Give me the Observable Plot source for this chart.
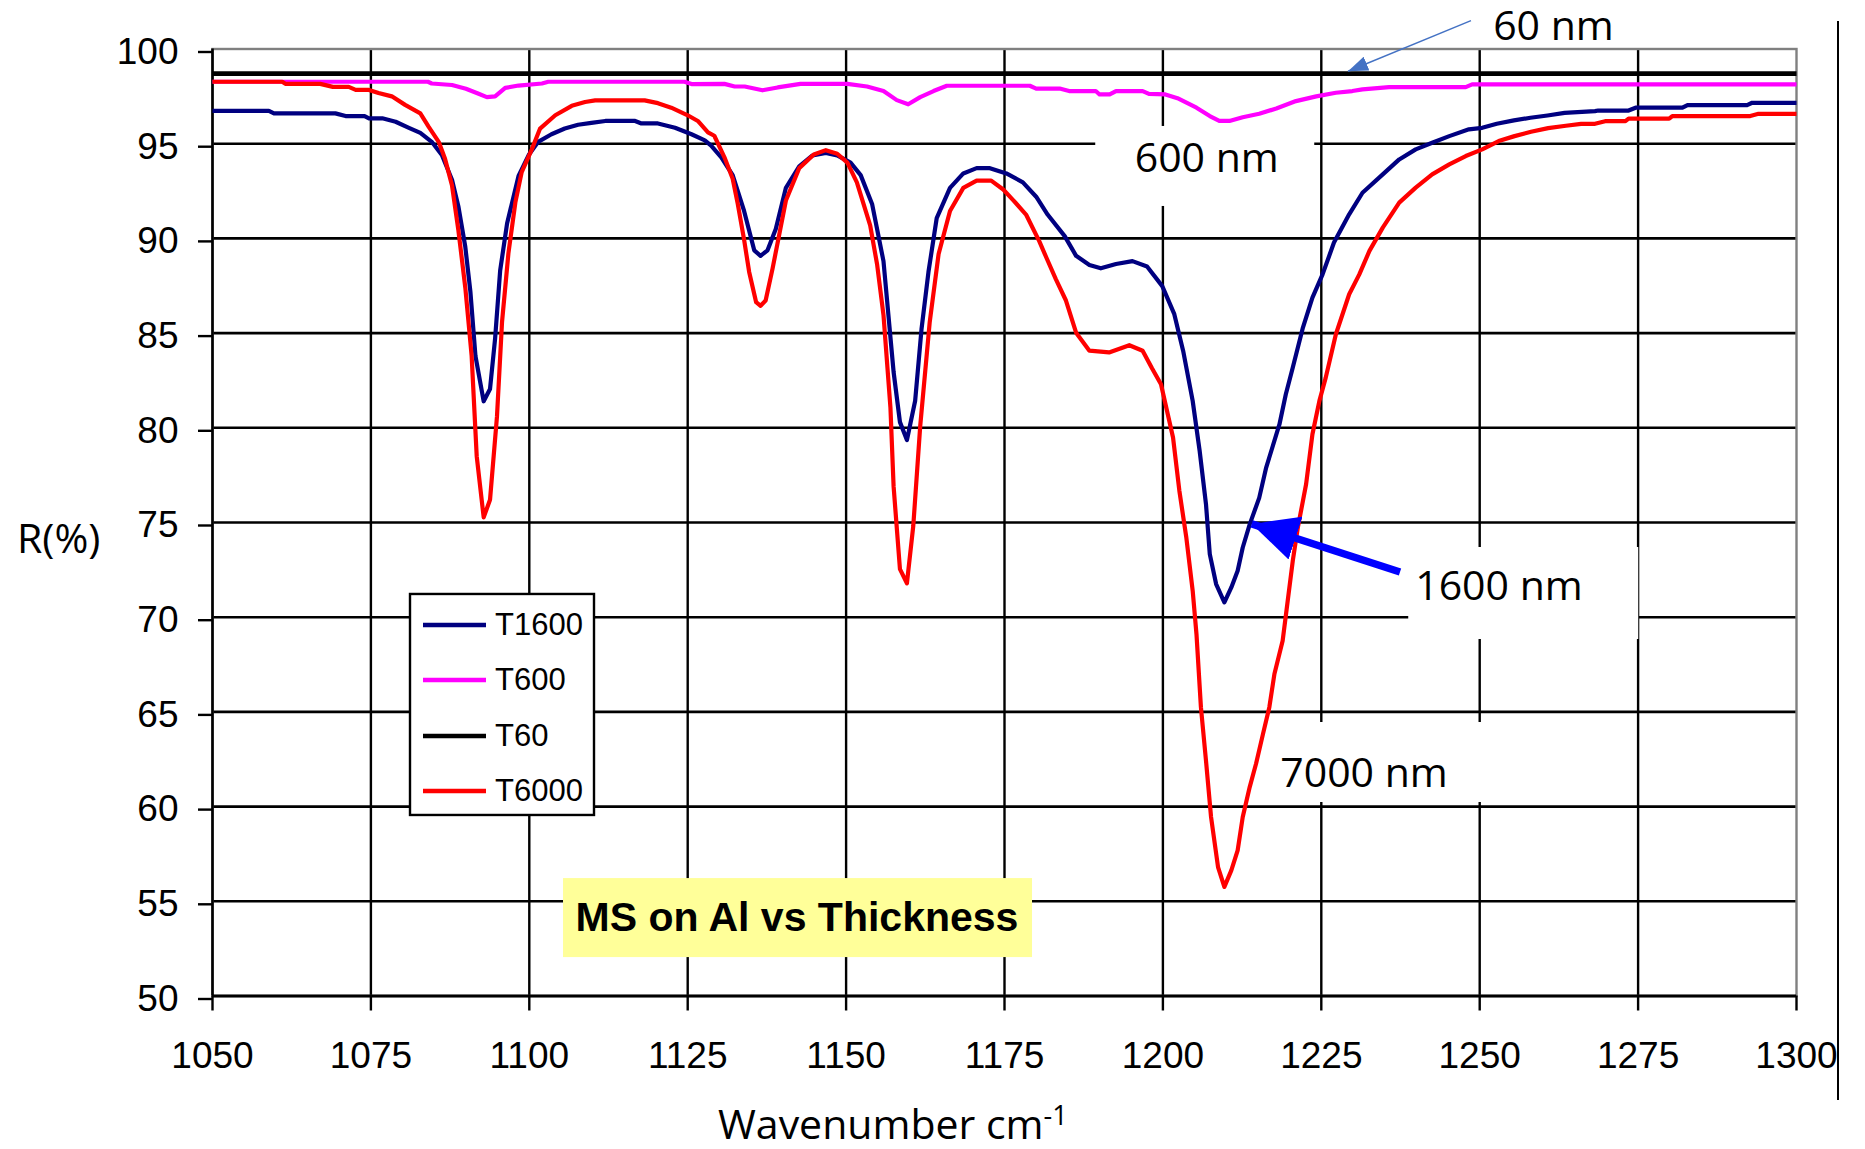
<!DOCTYPE html>
<html>
<head>
<meta charset="utf-8">
<script src="https://cdn.jsdelivr.net/npm/d3@7"></script>
<script src="https://cdn.jsdelivr.net/npm/@observablehq/plot@0.6"></script>
<style>
  html, body { margin: 0; padding: 0; background: #ffffff; }
  #chart { position: relative; width: 1865px; height: 1149px; overflow: hidden; background: #ffffff; }
</style>
</head>
<body>
<div id="chart"></div>
<script>
// ---- Axis ticks ----
const xTicks = [1050, 1075, 1100, 1125, 1150, 1175, 1200, 1225, 1250, 1275, 1300];
const yTicks = [50, 55, 60, 65, 70, 75, 80, 85, 90, 95, 100];

// ---- Series: [wavenumber (cm-1), reflectance R (%)] ----
const seriesNames = ["T1600", "T600", "T60", "T6000"];

const t1600 = [
  [1050, 96.73], [1058.9, 96.73], [1059.7, 96.6], [1069.4, 96.6], [1071, 96.46], [1074, 96.46],
  [1074.7, 96.34], [1076.8, 96.34], [1078.9, 96.16], [1081, 95.84], [1082.8, 95.57], [1084.6, 95.1],
  [1086.2, 94.4], [1087.8, 93.1], [1088.8, 91.7], [1089.9, 89.55], [1090.7, 87.2], [1091.5, 83.8],
  [1092.8, 81.4], [1093.8, 82.05], [1094.6, 84.7], [1095.4, 88.3], [1096.5, 90.8], [1098.3, 93.3],
  [1099.9, 94.4], [1101.4, 95.1], [1103.5, 95.5], [1105.6, 95.8], [1107.7, 96.0], [1109.8, 96.1],
  [1112, 96.2], [1116.7, 96.2], [1117.7, 96.07], [1120.3, 96.07], [1123, 95.84], [1125.6, 95.5],
  [1127.7, 95.18], [1128.7, 94.9], [1130.3, 94.28], [1132.1, 93.34], [1133.9, 91.45], [1135.5, 89.37],
  [1136.5, 89.08], [1137.6, 89.37], [1138.9, 90.5], [1140.5, 92.67], [1142.6, 93.8], [1144.7, 94.38],
  [1146.8, 94.51], [1148.6, 94.38], [1150.7, 94.0], [1152.3, 93.34], [1154.1, 91.82], [1155.9, 88.8],
  [1157.5, 82.94], [1158.5, 80.3], [1159.6, 79.35], [1160.9, 81.43], [1161.9, 85.2], [1163, 88.23],
  [1164.3, 91.07], [1166.4, 92.67], [1168.5, 93.43], [1170.6, 93.71], [1172.7, 93.71], [1175.3, 93.43],
  [1177.9, 92.96], [1180, 92.2], [1181.8, 91.26], [1184.5, 90.12], [1186.3, 89.08], [1188.4, 88.6],
  [1190.2, 88.42], [1192.6, 88.65], [1195.2, 88.8], [1197.5, 88.52], [1199.9, 87.48], [1201.8, 86.0],
  [1203.2, 84.06], [1204.7, 81.42], [1205.8, 78.78], [1206.8, 75.97], [1207.4, 73.33], [1208.4, 71.75],
  [1209.7, 70.78], [1210.8, 71.57], [1211.8, 72.45], [1212.6, 73.68], [1213.7, 74.9], [1215.2, 76.3],
  [1216.3, 77.9], [1218.4, 80.19], [1219.4, 81.77], [1220.5, 83.18], [1222.1, 85.29], [1223.6, 86.87],
  [1225.2, 88.1], [1227, 89.78], [1229.4, 91.27], [1231.5, 92.41], [1234.7, 93.38], [1237.3, 94.17],
  [1239.9, 94.7], [1242.5, 95.05], [1245.2, 95.4], [1248.3, 95.76], [1250.4, 95.84], [1252.7, 96.05],
  [1255.4, 96.23], [1258, 96.37], [1260.7, 96.49], [1263.4, 96.63], [1268.2, 96.72], [1268.7, 96.75],
  [1273.5, 96.75], [1274.6, 96.9], [1282, 96.9], [1282.8, 97.04], [1292.2, 97.04], [1293, 97.16],
  [1300, 97.16]
];

const t600 = [
  [1050, 98.27], [1084, 98.27], [1084.6, 98.18], [1087.8, 98.1], [1090, 97.9], [1092, 97.64],
  [1093.3, 97.46], [1094.6, 97.5], [1096.2, 97.95], [1098.3, 98.07], [1102, 98.18], [1103, 98.27],
  [1124.5, 98.27], [1125.6, 98.15], [1130.8, 98.16], [1132.4, 98.02], [1134, 98.02], [1136.8, 97.82],
  [1139.2, 97.97], [1142.8, 98.16], [1150.2, 98.16], [1153.3, 98.02], [1155.9, 97.78], [1158, 97.3],
  [1159.8, 97.08], [1161.7, 97.46], [1163.8, 97.78], [1165.9, 98.06], [1179, 98.06], [1180, 97.91],
  [1183.7, 97.91], [1185.2, 97.78], [1189.4, 97.78], [1190, 97.6], [1191.6, 97.6], [1192.6, 97.78],
  [1196.8, 97.78], [1197.8, 97.63], [1200.4, 97.6], [1202.3, 97.4], [1205.3, 96.9], [1207.4, 96.46],
  [1208.9, 96.2], [1210.5, 96.2], [1212.6, 96.4], [1215.2, 96.58], [1217.9, 96.86], [1221, 97.25],
  [1224.2, 97.5], [1227.3, 97.69], [1229.9, 97.78], [1231.5, 97.87], [1235.7, 97.99], [1247.8, 97.99],
  [1248.8, 98.13], [1300, 98.13]
];

const t60 = [
  [1050, 98.7], [1100, 98.7], [1150, 98.7], [1200, 98.7], [1250, 98.7], [1300, 98.7]
];

const t6000 = [
  [1050, 98.27], [1061, 98.27], [1061.5, 98.16], [1067, 98.16], [1069, 98.0], [1071.5, 98.0],
  [1072.6, 97.84], [1074.7, 97.84], [1076.2, 97.68], [1078.3, 97.5], [1080.4, 97.05], [1082.8, 96.6],
  [1084.1, 95.9], [1085.7, 95.1], [1086.7, 94.2], [1087.8, 92.8], [1088.8, 90.45], [1089.9, 87.4],
  [1090.9, 83.8], [1091.7, 78.5], [1092.8, 75.27], [1093.8, 76.2], [1094.9, 80.6], [1095.7, 85.6],
  [1096.7, 89.2], [1097.8, 91.9], [1098.8, 93.5], [1100.4, 94.7], [1101.7, 95.8], [1104.1, 96.5],
  [1106.7, 97.0], [1108.8, 97.2], [1110.4, 97.29], [1118.2, 97.29], [1120.3, 97.14], [1122.4, 96.9],
  [1125, 96.5], [1126.6, 96.2], [1128.2, 95.6], [1129.2, 95.42], [1130.8, 94.28], [1132.1, 93.15],
  [1132.9, 91.82], [1133.9, 89.93], [1134.7, 88.23], [1135.8, 86.63], [1136.5, 86.44], [1137.3, 86.72],
  [1138.4, 88.42], [1139.4, 90.12], [1140.5, 92.0], [1142.6, 93.71], [1144.9, 94.43], [1146.8, 94.66],
  [1148.6, 94.47], [1150.2, 94.0], [1151.7, 92.96], [1153.8, 90.69], [1154.9, 88.61], [1155.9, 85.96],
  [1157, 81.05], [1157.5, 76.89], [1158.5, 72.54], [1159.6, 71.79], [1160.6, 74.81], [1161.7, 80.1],
  [1163.2, 85.59], [1164.6, 89.18], [1166.4, 91.45], [1168.5, 92.67], [1170.6, 93.05], [1172.9, 93.05],
  [1174.8, 92.58], [1176.4, 92.01], [1178.4, 91.26], [1180.5, 89.84], [1181.6, 88.99], [1183.1, 87.85],
  [1184.7, 86.72], [1186.3, 85.02], [1188.4, 84.07], [1191.5, 83.98], [1194.7, 84.36], [1196.8, 84.07],
  [1198.3, 83.13], [1199.7, 82.3], [1201.6, 79.49], [1202.6, 76.67], [1203.7, 74.2], [1204.7, 71.4],
  [1205.3, 69.1], [1206, 65.25], [1206.8, 62.43], [1207.6, 59.45], [1208.7, 56.81], [1209.7, 55.76],
  [1210.8, 56.63], [1211.8, 57.69], [1212.6, 59.45], [1213.7, 61.03], [1214.7, 62.26], [1215.8, 63.84],
  [1216.8, 65.25], [1217.6, 67.0], [1218.9, 68.76], [1219.7, 70.87], [1220.5, 72.98], [1221.3, 74.74],
  [1222.1, 76.14], [1222.6, 77.02], [1223.6, 79.66], [1224.7, 81.42], [1225.7, 82.65], [1227.3, 84.94],
  [1229.4, 87.05], [1231, 88.1], [1232.6, 89.34], [1234.7, 90.57], [1237.3, 91.89], [1239.9, 92.68],
  [1242.5, 93.38], [1245.2, 93.91], [1247.8, 94.35], [1250.4, 94.7], [1253, 95.14], [1255.5, 95.4],
  [1258.1, 95.63], [1260.8, 95.82], [1263.6, 95.95], [1266, 96.05], [1268.2, 96.05], [1269.8, 96.19],
  [1273, 96.19], [1273.5, 96.32], [1279.9, 96.32], [1280.4, 96.46], [1292.7, 96.46], [1294, 96.58],
  [1300, 96.58]
];

// ---- Annotation texts ----
const chartTitle = "MS on Al vs Thickness";
const noteLabels = ["60 nm", "600 nm", "1600 nm", "7000 nm"];

// ---- Styling ----
const seriesColor = { T1600: "#000080", T600: "#ff00ff", T60: "#000000", T6000: "#ff0000" };
const seriesWidth = { T1600: 4.2, T600: 4.2, T60: 4.6, T6000: 4.2 };
const tickFont = "'Liberation Sans', Arial, sans-serif";
const noteFont = "'Open Sans', 'Noto Sans', sans-serif";

const seriesData = { T1600: t1600, T600: t600, T60: t60, T6000: t6000 };
const rows = seriesNames.flatMap(name =>
  seriesData[name].map(([wavenumber, R]) => ({ series: name, wavenumber, R }))
);

const plot = Plot.plot({
  width: 1865,
  height: 1149,
  marginLeft: 212,
  marginRight: 69,
  marginTop: 48.5,
  marginBottom: 153.5,
  x: { domain: [1050, 1300], axis: null },
  y: { domain: [50, 100], axis: null },
  style: {
    fontFamily: tickFont,
    fontSize: "37px",
    color: "#000000",
    background: "#ffffff",
    overflow: "visible"
  },
  marks: [
    // grid
    Plot.ruleY(yTicks.filter(v => v > 50 && v < 100), { stroke: "#000000", strokeWidth: 2.6 }),
    Plot.ruleX(xTicks.filter(v => v > 1050 && v < 1300), { stroke: "#000000", strokeWidth: 2.4 }),
    Plot.frame({ stroke: "#808080", strokeWidth: 2.4 }),
    Plot.ruleY([50], { stroke: "#000000", strokeWidth: 3.2 }),
    Plot.ruleX([1050], { stroke: "#000000", strokeWidth: 2.6 }),
    // axes
    Plot.axisX({
      ticks: xTicks, tickSize: 15, tickPadding: 31, tickFormat: "d",
      strokeWidth: 2.4, label: null, fontSize: 37
    }),
    Plot.axisY({
      ticks: yTicks, tickSize: 14, tickPadding: 20, tickFormat: "d",
      strokeWidth: 2.4, label: null, fontSize: 37, dy: 3
    }),
    // spectra, drawn in legend order
    ...seriesNames.map(name =>
      Plot.line(rows.filter(d => d.series === name), {
        x: "wavenumber",
        y: "R",
        stroke: seriesColor[name],
        strokeWidth: seriesWidth[name],
        strokeLinejoin: "round",
        strokeLinecap: "butt"
      })
    )
  ]
});

document.getElementById("chart").appendChild(plot);

// ---- Overlays positioned through the plot's scales ----
const X = plot.scale("x").apply;
const Y = plot.scale("y").apply;
const svg = d3.select(plot);
const layer = svg.append("g").attr("class", "overlay").attr("text-anchor", "start");

// arrowhead markers
const defs = svg.append("defs");
function headMarker(id, color, w, h) {
  defs.append("marker")
    .attr("id", id)
    .attr("viewBox", `0 0 ${w} ${h}`)
    .attr("refX", w).attr("refY", h / 2)
    .attr("markerWidth", w).attr("markerHeight", h)
    .attr("markerUnits", "userSpaceOnUse")
    .attr("orient", "auto")
    .append("path")
    .attr("d", `M0,0L${w},${h / 2}L0,${h}Z`)
    .attr("fill", color);
}
headMarker("head-thin", "#4472c4", 20, 15);
headMarker("head-bold", "#0000ff", 46, 45);

// white text boxes laid over the grid
function noteBox(x0, y0, w, h, label, tx, ty, anchor) {
  const px = X(x0), py = Y(y0);
  layer.append("rect")
    .attr("x", px).attr("y", py).attr("width", w).attr("height", h)
    .attr("fill", "#ffffff");
  layer.append("text")
    .attr("x", px + tx).attr("y", py + ty)
    .attr("text-anchor", anchor)
    .attr("font-family", noteFont)
    .attr("font-size", 41)
    .attr("fill", "#000000")
    .text(label);
}
noteBox(1189.4, 95.91, 219, 80, noteLabels[1], 111.5, 46, "middle");
noteBox(1238.8, 73.68, 230, 92, noteLabels[2], 7, 53, "start");
noteBox(1217.5, 64.44, 227, 80, noteLabels[3], 7, 65, "start");

// "60 nm" label above the frame, with a thin arrow to the T60 line
layer.append("text")
  .attr("x", X(1252.2)).attr("y", Y(100.45))
  .attr("text-anchor", "start")
  .attr("font-family", noteFont).attr("font-size", 41).attr("fill", "#000000")
  .text(noteLabels[0]);
layer.append("line")
  .attr("x1", X(1248.7)).attr("y1", Y(101.47))
  .attr("x2", X(1229.3)).attr("y2", Y(98.8))
  .attr("stroke", "#4472c4").attr("stroke-width", 1.5)
  .attr("marker-end", "url(#head-thin)");

// bold arrow to the T1600 curve
layer.append("line")
  .attr("x1", X(1237.5)).attr("y1", Y(72.36))
  .attr("x2", X(1214.1)).attr("y2", Y(74.9))
  .attr("stroke", "#0000ff").attr("stroke-width", 7.5)
  .attr("marker-end", "url(#head-bold)");

// legend
(function legend() {
  const px = X(1081.25), py = Y(71.2);
  const g = layer.append("g").attr("transform", `translate(${px},${py})`);
  g.append("rect").attr("x", 0).attr("y", 0).attr("width", 184).attr("height", 221)
    .attr("fill", "#ffffff").attr("stroke", "#000000").attr("stroke-width", 2.4);
  const rowY = [31, 86, 142, 197];
  seriesNames.forEach((name, i) => {
    g.append("line")
      .attr("x1", 13).attr("x2", 76).attr("y1", rowY[i]).attr("y2", rowY[i])
      .attr("stroke", seriesColor[name]).attr("stroke-width", 4.4);
    g.append("text")
      .attr("x", 85).attr("y", rowY[i] + 10.5)
      .attr("text-anchor", "start")
      .attr("font-family", tickFont).attr("font-size", 31).attr("fill", "#000000")
      .text(name);
  });
})();

// chart title box
(function titleBox() {
  const px = X(1105.4), py = Y(56.2);
  layer.append("rect").attr("x", px).attr("y", py).attr("width", 469).attr("height", 79)
    .attr("fill", "#ffff99");
  layer.append("text")
    .attr("x", px + 234).attr("y", py + 53)
    .attr("text-anchor", "middle")
    .attr("font-family", tickFont).attr("font-weight", "bold").attr("font-size", 41)
    .attr("fill", "#000000")
    .text(chartTitle);
})();

// axis titles
layer.append("text")
  .attr("x", 17).attr("y", 553)
  .attr("text-anchor", "start")
  .attr("font-family", noteFont).attr("font-size", 41).attr("fill", "#000000")
  .text("R(%)");
const xTitle = layer.append("text")
  .attr("x", 718).attr("y", 1139)
  .attr("text-anchor", "start")
  .attr("font-family", noteFont).attr("font-size", 41).attr("fill", "#000000");
xTitle.append("tspan").text("Wavenumber cm");
xTitle.append("tspan").attr("font-size", 27).attr("dy", -14).text("-1");

// divider line at the right edge of the figure
layer.append("line")
  .attr("x1", 1838).attr("x2", 1838).attr("y1", 21).attr("y2", 1100)
  .attr("stroke", "#000000").attr("stroke-width", 2);
</script>
</body>
</html>
